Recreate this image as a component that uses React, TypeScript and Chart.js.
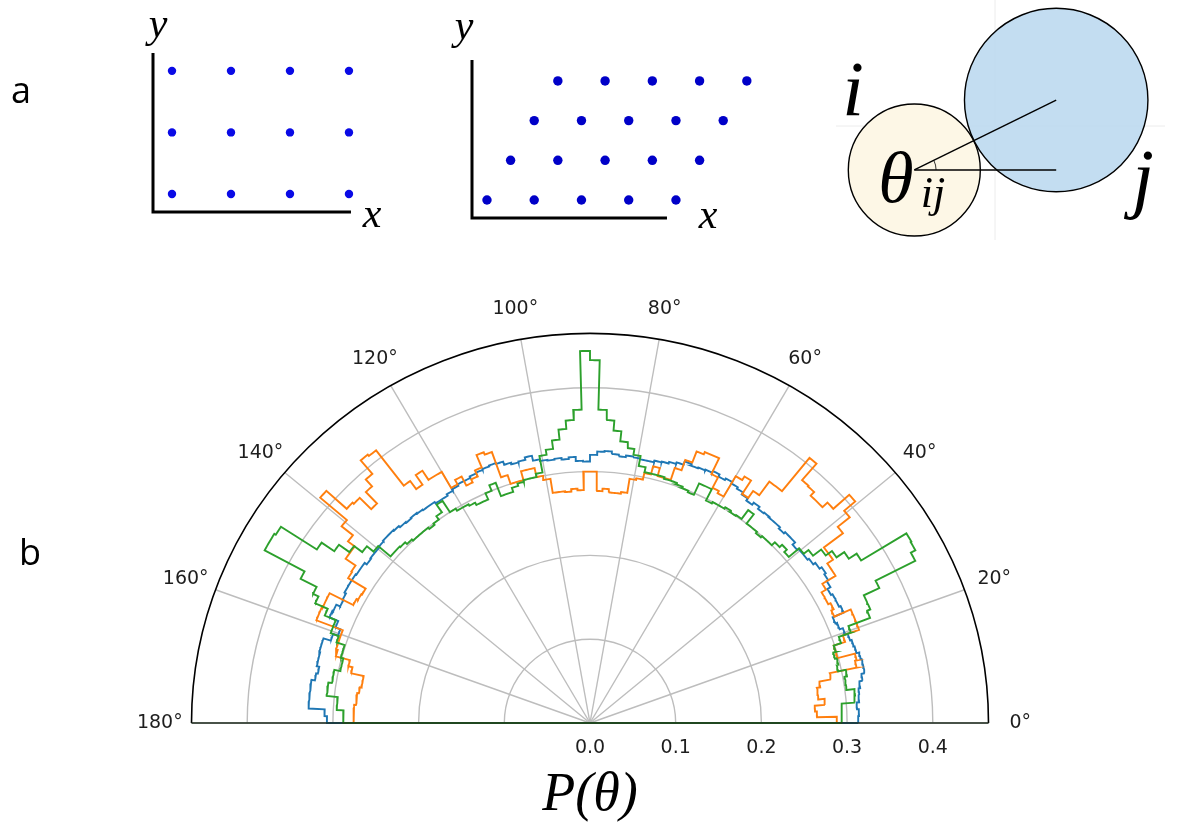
import React, { useEffect, useRef } from "react";
import { Chart, registerables } from "chart.js";
Chart.register(...registerables);

const W = 1188;
const H = 834;

// ---------------- Panel a data ----------------
const squareRowY = [1, 2, 3];
const squareRowX = [
  [1, 2, 3, 4],
  [1, 2, 3, 4],
  [1, 2, 3, 4],
];
const obliqueRowY = [0, 0.84, 1.68, 2.52];
const obliqueRowX = [
  [0, 1, 2, 3, 4],
  [0.5, 1.5, 2.5, 3.5, 4.5],
  [1, 2, 3, 4, 5],
  [1.5, 2.5, 3.5, 4.5, 5.5],
];
const particleI = { x: 0, y: 0, r: 1 };
const particleJ = { x: 2.15, y: 1.06, r: 1.39 };

// ---------------- Panel b data ----------------
const BIN_WIDTH_DEG = 1.5;
const R_MAX = 0.465;
const angleTicks = [0, 20, 40, 60, 80, 100, 120, 140, 160, 180];
const angleTickLabels = ["0°", "20°", "40°", "60°", "80°", "100°", "120°", "140°", "160°", "180°"];
const radialGrid = [0.1, 0.2, 0.3, 0.4];
const radialTickValues = [0, 0.1, 0.2, 0.3, 0.4];
const radialTickLabels = ["0.0", "0.1", "0.2", "0.3", "0.4"];

const seriesBlue = [
  0.313, 0.314, 0.312, 0.315, 0.316, 0.318, 0.322, 0.326, 0.326, 0.325, 0.322, 0.321,
  0.319, 0.316, 0.312, 0.31, 0.324, 0.322, 0.322, 0.32, 0.324, 0.326, 0.328, 0.325,
  0.322, 0.32, 0.32, 0.318, 0.322, 0.322, 0.32, 0.322, 0.322, 0.323, 0.322, 0.325,
  0.322, 0.325, 0.328, 0.33, 0.332, 0.33, 0.333, 0.331, 0.33, 0.329, 0.331, 0.327,
  0.325, 0.323, 0.322, 0.32, 0.32, 0.321, 0.322, 0.32, 0.322, 0.325, 0.324, 0.32,
  0.312, 0.313, 0.318, 0.316, 0.318, 0.317, 0.318, 0.32, 0.326, 0.323, 0.322, 0.324,
  0.328, 0.329, 0.328, 0.327, 0.326, 0.324, 0.324, 0.322, 0.32, 0.318, 0.318, 0.32,
  0.32, 0.321, 0.322, 0.321, 0.322, 0.324, 0.325, 0.325, 0.324, 0.323, 0.323, 0.322,
  0.325, 0.325, 0.326, 0.326, 0.326, 0.324, 0.323, 0.328, 0.329, 0.318, 0.312, 0.318,
  0.327, 0.327, 0.326, 0.326, 0.323, 0.325, 0.329, 0.329, 0.329, 0.329, 0.31, 0.307,
];
const seriesOrange = [
  0.288, 0.265, 0.263, 0.275, 0.268, 0.268, 0.272, 0.286, 0.318, 0.32, 0.299, 0.299,
  0.313, 0.333, 0.333, 0.333, 0.312, 0.315, 0.312, 0.312, 0.318, 0.336, 0.336, 0.344,
  0.344, 0.372, 0.39, 0.407, 0.382, 0.374, 0.374, 0.38, 0.381, 0.407, 0.356, 0.356,
  0.336, 0.326, 0.345, 0.34, 0.312, 0.315, 0.329, 0.35, 0.35, 0.347, 0.333, 0.32,
  0.305, 0.305, 0.315, 0.305, 0.297, 0.295, 0.278, 0.276, 0.276, 0.28, 0.277, 0.3,
  0.3, 0.278, 0.28, 0.277, 0.278, 0.278, 0.295, 0.3, 0.311, 0.311, 0.3, 0.3,
  0.311, 0.343, 0.346, 0.33, 0.322, 0.318, 0.33, 0.324, 0.346, 0.346, 0.359, 0.345,
  0.357, 0.41, 0.412, 0.391, 0.38, 0.361, 0.38, 0.382, 0.414, 0.373, 0.356, 0.346,
  0.346, 0.332, 0.331, 0.307, 0.308, 0.31, 0.341, 0.341, 0.342, 0.342, 0.309, 0.309,
  0.309, 0.307, 0.29, 0.285, 0.27, 0.27, 0.272, 0.274, 0.274, 0.276, 0.276, 0.276,
];
const seriesGreen = [
  0.294, 0.294, 0.294, 0.31, 0.311, 0.302, 0.302, 0.305, 0.296, 0.298, 0.296, 0.299,
  0.308, 0.323, 0.35, 0.354, 0.354, 0.374, 0.426, 0.432, 0.433, 0.371, 0.36, 0.349,
  0.34, 0.328, 0.321, 0.305, 0.309, 0.305, 0.3, 0.3, 0.298, 0.3, 0.3, 0.314,
  0.301, 0.3, 0.302, 0.3, 0.3, 0.298, 0.313, 0.313, 0.298, 0.3, 0.302, 0.304,
  0.304, 0.306, 0.306, 0.306, 0.312, 0.324, 0.331, 0.338, 0.35, 0.362, 0.374, 0.433,
  0.444, 0.374, 0.362, 0.352, 0.34, 0.33, 0.324, 0.304, 0.3, 0.3, 0.298, 0.295,
  0.29, 0.29, 0.307, 0.3, 0.292, 0.292, 0.295, 0.297, 0.297, 0.3, 0.316, 0.305,
  0.3, 0.298, 0.3, 0.3, 0.3, 0.302, 0.305, 0.306, 0.306, 0.325, 0.335, 0.347,
  0.362, 0.38, 0.43, 0.432, 0.432, 0.379, 0.358, 0.351, 0.335, 0.321, 0.321, 0.311,
  0.301, 0.301, 0.298, 0.298, 0.305, 0.305, 0.309, 0.309, 0.296, 0.296, 0.288, 0.288,
];

const BLUE = "#1f77b4";
const ORANGE = "#ff7f0e";
const GREEN = "#2ca02c";

// ---------------- helpers ----------------
function latticePoints(rowY: number[], rowX: number[][]) {
  const pts: { x: number; y: number }[] = [];
  rowX.forEach((xs, k) => xs.forEach((x) => pts.push({ x, y: rowY[k] })));
  return pts;
}

function polarStepPath(values: number[]) {
  const SUB = 4;
  const pts: { x: number; y: number }[] = [{ x: 0, y: 0 }];
  values.forEach((r, i) => {
    const a0 = i * BIN_WIDTH_DEG;
    for (let k = 0; k <= SUB; k++) {
      const a = ((a0 + (BIN_WIDTH_DEG * k) / SUB) * Math.PI) / 180;
      pts.push({ x: r * Math.cos(a), y: r * Math.sin(a) });
    }
  });
  pts.push({ x: 0, y: 0 });
  return pts;
}

function baseOptions(padding: any, xr: number[], yr: number[]) {
  return {
    animation: false,
    responsive: false,
    events: [],
    layout: { padding, autoPadding: false },
    plugins: { legend: { display: false }, tooltip: { enabled: false }, title: { display: false } },
    scales: {
      x: { type: "linear", display: false, bounds: "data", min: xr[0], max: xr[1] },
      y: { type: "linear", display: false, bounds: "data", min: yr[0], max: yr[1] },
    },
  };
}

const SERIF_IT = (px: number) => `italic ${px}px "Liberation Serif", "DejaVu Serif", serif`;

// L-shaped axes drawn through the chart's own scales
function drawLAxes(
  chart: any,
  axisX: number[],
  axisY: number[],
  labels: { y: [number, number]; x: [number, number] }
) {
  const { ctx } = chart;
  const xs = chart.scales.x;
  const ys = chart.scales.y;
  const x0 = xs.getPixelForValue(axisX[0]);
  const x1 = xs.getPixelForValue(axisX[1]);
  const y0 = ys.getPixelForValue(axisY[0]);
  const y1 = ys.getPixelForValue(axisY[1]);
  ctx.save();
  ctx.strokeStyle = "#000";
  ctx.lineWidth = 3;
  ctx.beginPath();
  ctx.moveTo(x0, y1);
  ctx.lineTo(x0, y0);
  ctx.lineTo(x1, y0);
  ctx.stroke();
  ctx.fillStyle = "#000";
  ctx.font = SERIF_IT(42);
  ctx.textAlign = "center";
  ctx.textBaseline = "alphabetic";
  ctx.fillText("y", labels.y[0], labels.y[1]);
  ctx.fillText("x", labels.x[0], labels.x[1]);
  ctx.restore();
}

// ---------------- configs ----------------
function configSquare() {
  const axisX = [0.678, 4.034];
  const axisY = [0.707, 3.29];
  return {
    type: "scatter",
    data: {
      datasets: [
        {
          data: latticePoints(squareRowY, squareRowX),
          pointRadius: 4.2,
          pointBackgroundColor: "#0a0ae6",
          pointBorderWidth: 0,
          clip: false,
        },
      ],
    },
    options: baseOptions({ left: 153, right: W - 361, top: 53, bottom: H - 212 }, [0.678, 4.204], [0.707, 3.29]),
    plugins: [
      {
        id: "sqDecor",
        beforeDatasetsDraw(chart: any) {
          drawLAxes(chart, axisX, axisY, { y: [158, 37], x: [372, 227] });
          const ctx = chart.ctx;
          ctx.save();
          ctx.fillStyle = "#000";
          ctx.font = '36px "Open Sans", "Noto Sans", sans-serif';
          ctx.textAlign = "center";
          ctx.textBaseline = "alphabetic";
          ctx.fillText("a", 21, 103);
          ctx.restore();
        },
      },
    ],
  };
}

function configOblique() {
  const axisX = [-0.317, 3.81];
  const axisY = [-0.381, 2.963];
  return {
    type: "scatter",
    data: {
      datasets: [
        {
          data: latticePoints(obliqueRowY, obliqueRowX),
          pointRadius: 4.7,
          pointBackgroundColor: "#0000c8",
          pointBorderWidth: 0,
          clip: false,
        },
      ],
    },
    options: baseOptions({ left: 472, right: W - 761, top: 60, bottom: H - 218 }, [-0.317, 5.8], [-0.381, 2.963]),
    plugins: [
      {
        id: "obDecor",
        beforeDatasetsDraw(chart: any) {
          drawLAxes(chart, axisX, axisY, { y: [464, 39], x: [708, 228] });
        },
      },
    ],
  };
}

function configPair() {
  const radiusPx = (r: number) => (c: any) => {
    const s = c.chart.scales.x;
    return s.getPixelForValue(r) - s.getPixelForValue(0);
  };
  return {
    type: "scatter",
    data: {
      datasets: [
        {
          data: [
            { x: particleI.x, y: particleI.y },
            { x: particleJ.x, y: particleJ.y },
          ],
          showLine: true,
          pointRadius: 0,
          borderColor: "#000",
          borderWidth: 1.4,
          order: 0,
          clip: false,
        },
        {
          data: [
            { x: particleI.x, y: particleI.y },
            { x: particleJ.x, y: particleI.y },
          ],
          showLine: true,
          pointRadius: 0,
          borderColor: "#000",
          borderWidth: 1.4,
          order: 0,
          clip: false,
        },
        {
          data: [{ x: particleJ.x, y: particleJ.y }],
          pointRadius: radiusPx(particleJ.r),
          pointBackgroundColor: "rgba(190,218,240,0.92)",
          pointBorderColor: "#000",
          pointBorderWidth: 1.4,
          order: 1,
          clip: false,
        },
        {
          data: [{ x: particleI.x, y: particleI.y }],
          pointRadius: radiusPx(particleI.r),
          pointBackgroundColor: "#fdf7e6",
          pointBorderColor: "#000",
          pointBorderWidth: 1.4,
          order: 2,
          clip: false,
        },
      ],
    },
    options: baseOptions({ left: 800, right: 0, top: 0, bottom: H - 240 }, [-1.732, 4.147], [-1.061, 2.576]),
    plugins: [
      {
        id: "pairDecor",
        beforeDatasetsDraw(chart: any) {
          const ctx = chart.ctx;
          ctx.save();
          ctx.strokeStyle = "#ececec";
          ctx.lineWidth = 1;
          ctx.beginPath();
          ctx.moveTo(995, 0);
          ctx.lineTo(995, 240);
          ctx.moveTo(836, 126);
          ctx.lineTo(1165, 126);
          ctx.stroke();
          ctx.restore();
        },
        afterDatasetsDraw(chart: any) {
          const ctx = chart.ctx;
          const xs = chart.scales.x;
          const ys = chart.scales.y;
          const cx = xs.getPixelForValue(particleI.x);
          const cy = ys.getPixelForValue(particleI.y);
          const ang = Math.atan2(particleJ.y - particleI.y, particleJ.x - particleI.x);
          const rr = xs.getPixelForValue(0.33) - xs.getPixelForValue(0);
          ctx.save();
          ctx.strokeStyle = "#000";
          ctx.lineWidth = 0.8;
          ctx.beginPath();
          ctx.arc(cx, cy, rr, -ang, 0);
          ctx.stroke();
          ctx.fillStyle = "#000";
          ctx.textAlign = "center";
          ctx.textBaseline = "alphabetic";
          ctx.font = SERIF_IT(78);
          ctx.fillText("i", 853, 115);
          ctx.fillText("j", 1143, 203);
          ctx.font = SERIF_IT(72);
          ctx.fillText("θ", 896, 202);
          ctx.font = SERIF_IT(44);
          ctx.fillText("ij", 933, 207);
          ctx.restore();
        },
      },
    ],
  };
}

function configPolar() {
  const mk = (values: number[], color: string, order: number) => ({
    data: polarStepPath(values),
    showLine: true,
    pointRadius: 0,
    borderColor: color,
    borderWidth: 1.9,
    tension: 0,
    fill: false,
    order,
    clip: false,
  });
  const cxPage = 590;
  const cyPage = 723;
  const kx = 857;
  const ky = 838;
  const top = 260;
  return {
    type: "scatter",
    data: {
      datasets: [mk(seriesBlue, BLUE, 3), mk(seriesOrange, ORANGE, 2), mk(seriesGreen, GREEN, 1)],
    },
    options: baseOptions(
      { left: 0, right: 0, top, bottom: 0 },
      [-cxPage / kx, (W - cxPage) / kx],
      [-(H - cyPage) / ky, (cyPage - top) / ky]
    ),
    plugins: [
      {
        id: "polarDecor",
        beforeDatasetsDraw(chart: any) {
          const ctx = chart.ctx;
          const xs = chart.scales.x;
          const ys = chart.scales.y;
          const cx = xs.getPixelForValue(0);
          const cy = ys.getPixelForValue(0);
          const px = xs.getPixelForValue(1) - cx;
          const py = cy - ys.getPixelForValue(1);
          ctx.save();
          ctx.strokeStyle = "#bdbdbd";
          ctx.lineWidth = 1.4;
          radialGrid.forEach((r) => {
            ctx.beginPath();
            ctx.ellipse(cx, cy, r * px, r * py, 0, Math.PI, 2 * Math.PI);
            ctx.stroke();
          });
          angleTicks.forEach((a) => {
            const t = (a * Math.PI) / 180;
            ctx.beginPath();
            ctx.moveTo(cx, cy);
            ctx.lineTo(xs.getPixelForValue(R_MAX * Math.cos(t)), ys.getPixelForValue(R_MAX * Math.sin(t)));
            ctx.stroke();
          });
          ctx.restore();
        },
        afterDatasetsDraw(chart: any) {
          const ctx = chart.ctx;
          const xs = chart.scales.x;
          const ys = chart.scales.y;
          const cx = xs.getPixelForValue(0);
          const cy = ys.getPixelForValue(0);
          const px = xs.getPixelForValue(1) - cx;
          const py = cy - ys.getPixelForValue(1);
          ctx.save();
          ctx.strokeStyle = "#000";
          ctx.lineWidth = 1.6;
          ctx.beginPath();
          ctx.ellipse(cx, cy, R_MAX * px, R_MAX * py, 0, Math.PI, 2 * Math.PI);
          ctx.stroke();
          ctx.strokeStyle = "#1d2a1d";
          ctx.beginPath();
          ctx.moveTo(xs.getPixelForValue(-R_MAX), cy);
          ctx.lineTo(xs.getPixelForValue(R_MAX), cy);
          ctx.stroke();
          ctx.restore();
        },
        afterDraw(chart: any) {
          const ctx = chart.ctx;
          const xs = chart.scales.x;
          const ys = chart.scales.y;
          const cx = xs.getPixelForValue(0);
          const cy = ys.getPixelForValue(0);
          const R_LABEL = 0.502;
          ctx.save();
          ctx.fillStyle = "#1e1e1e";
          ctx.font = '19px "DejaVu Sans", sans-serif';
          ctx.textAlign = "center";
          ctx.textBaseline = "middle";
          angleTicks.forEach((a, i) => {
            const t = (a * Math.PI) / 180;
            ctx.fillText(
              angleTickLabels[i],
              xs.getPixelForValue(R_LABEL * Math.cos(t)),
              ys.getPixelForValue(R_LABEL * Math.sin(t))
            );
          });
          radialTickValues.forEach((v, i) => {
            ctx.fillText(radialTickLabels[i], xs.getPixelForValue(v), cy + 25);
          });
          ctx.fillStyle = "#000";
          ctx.font = SERIF_IT(54);
          ctx.textBaseline = "alphabetic";
          ctx.fillText("P(θ)", cx, 810);
          ctx.font = '36px "Open Sans", "Noto Sans", sans-serif';
          ctx.fillText("b", 30, 565);
          ctx.restore();
        },
      },
    ],
  };
}

function ChartLayer({ build }: { build: () => any }) {
  const ref = useRef<HTMLCanvasElement>(null);
  useEffect(() => {
    const chart = new Chart(ref.current as HTMLCanvasElement, build() as any);
    return () => chart.destroy();
  }, []);
  return (
    <canvas
      ref={ref}
      width={W}
      height={H}
      style={{ position: "absolute", left: 0, top: 0, width: W, height: H }}
    />
  );
}

export default function App() {
  return (
    <div style={{ position: "absolute", left: 0, top: 0, width: W, height: H, background: "#fff", overflow: "hidden" }}>
      <ChartLayer build={configPolar} />
      <ChartLayer build={configSquare} />
      <ChartLayer build={configOblique} />
      <ChartLayer build={configPair} />
    </div>
  );
}
